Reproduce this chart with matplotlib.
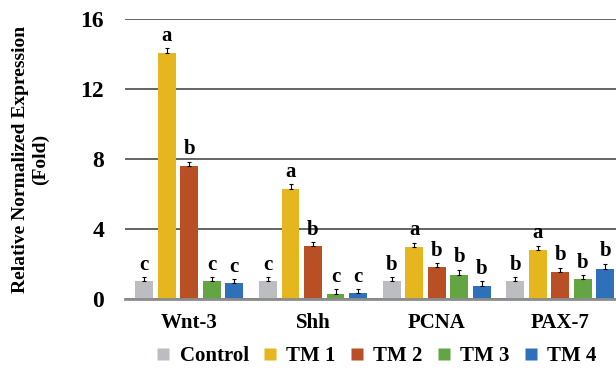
import numpy as np
import matplotlib
matplotlib.use('Agg')
import matplotlib.pyplot as plt
from matplotlib.lines import Line2D

plt.rcParams.update({
    'font.family': 'Liberation Serif',
    'font.weight': 'bold',
})

genes = ['Wnt-3', 'Shh', 'PCNA', 'PAX-7']
groups = ['Control', 'TM 1', 'TM 2', 'TM 3', 'TM 4']
colors = ['#BCBDC0', '#E5B61E', '#B94F24', '#62A542', '#2E70BA']

# mean values per group (rows) and gene (columns)
control = [1.01, 1.01, 1.00, 1.00]
tm1 = [14.08, 6.27, 2.95, 2.78]
tm2 = [7.58, 3.01, 1.81, 1.53]
tm3 = [1.01, 0.27, 1.35, 1.13]
tm4 = [0.90, 0.33, 0.73, 1.70]

err_control = [0.25, 0.24, 0.24, 0.24]
err_tm1 = [0.27, 0.30, 0.27, 0.27]
err_tm2 = [0.27, 0.23, 0.26, 0.26]
err_tm3 = [0.25, 0.27, 0.33, 0.21]
err_tm4 = [0.24, 0.25, 0.28, 0.32]

letters_control = ['c', 'c', 'b', 'b']
letters_tm1 = ['a', 'a', 'a', 'a']
letters_tm2 = ['b', 'b', 'b', 'b']
letters_tm3 = ['c', 'c', 'b', 'b']
letters_tm4 = ['c', 'c', 'b', 'b']

values = [control, tm1, tm2, tm3, tm4]
errors = [err_control, err_tm1, err_tm2, err_tm3, err_tm4]
letters = [letters_control, letters_tm1, letters_tm2, letters_tm3, letters_tm4]

fig = plt.figure(figsize=(6.16, 3.69), dpi=100)
ax = fig.add_axes([0.203, 0.19, 0.797, 0.7585])

x = np.arange(len(genes))
width = 0.145
pitch = 0.182
offsets = (np.arange(len(groups)) - 2) * pitch

ax.set_axisbelow(True)
for i in range(len(groups)):
    xs = x + offsets[i]
    ax.bar(xs, values[i], width, color=colors[i], zorder=2)
    ax.errorbar(xs, values[i], yerr=[np.zeros(len(genes)), errors[i]], fmt='none',
                ecolor='black', elinewidth=0.8, capsize=1.5, capthick=0.8, zorder=3)
    for j in range(len(genes)):
        ax.annotate(letters[i][j], (xs[j], values[i][j] + errors[i][j]),
                    xytext=(0, 1.5), textcoords='offset points',
                    ha='center', va='bottom', fontsize=15, fontweight='bold')

ax.set_ylim(0, 16)
ax.set_xlim(-0.52, 3.45)
ax.set_yticks([0, 4, 8, 12, 16])
ax.yaxis.grid(True, color='#3A3A3A', linewidth=1.1)
for s in ['top', 'right', 'left']:
    ax.spines[s].set_visible(False)
ax.spines['bottom'].set_color('#8C8C8C')
ax.spines['bottom'].set_linewidth(2)
ax.tick_params(axis='y', length=0, pad=15, labelsize=17)
ax.tick_params(axis='x', length=0, pad=10, labelsize=15)
ax.set_xticks(x)
ax.set_xticklabels(genes)
ax.set_ylabel('Relative Normalized Expression\n(Fold)', fontsize=14, fontweight='bold',
              linespacing=1.2, labelpad=23)

handles = [Line2D([0], [0], marker='s', color='none', markerfacecolor=c,
                  markeredgecolor='none', markersize=8, label=g)
           for c, g in zip(colors, groups)]
fig.legend(handles=handles, loc='center', bbox_to_anchor=(0.612, 0.035), ncol=5,
           frameon=False, fontsize=15, handlelength=0.55, handletextpad=0.5,
           columnspacing=0.75)

fig.savefig('out.png', dpi=100)
